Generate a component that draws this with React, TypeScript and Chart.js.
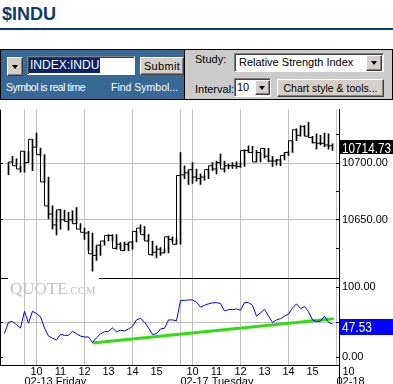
import React, { useEffect, useRef } from 'react';
import { Chart, registerables } from 'chart.js';

Chart.register(...registerables);

// ---- data (10-minute bars, index 0..83) ----
const highs = [
  null, null, 10700, 10705.6, 10703.4, 10697.2, 10710, 10710, 10720.5, 10726,
  10712.7, 10707, 10687.3, 10661.9, 10657.6, 10659, 10658.2, 10656.2, 10657.6, 10660.5,
  10646.3, 10642.4, 10639.5, 10638.1, 10626.8, 10628.2, 10631.1, 10636.7, 10636.7, 10636.7,
  10629.7, 10630.2, 10629.7, 10631.1, 10639.5, 10645.2, 10643.8, 10636.7, 10631.1, 10626.8,
  10625.4, 10624, 10635.3, 10634.7, 10633.3, 10708.9, 10697.2, 10692.9, 10700, 10694.4,
  10690.1, 10688.7, 10694.4, 10700, 10701.4, 10707.6, 10701.4, 10698.6, 10700, 10700.6,
  10700, 10711.3, 10714.7, 10714.2, 10710.7, 10708.9, 10712.5, 10712.5, 10705.6, 10702.8,
  10702.8, 10708.5, 10709.9, 10719.2, 10729.7, 10732.5, 10732.5, 10735.3, 10723.2, 10725.4,
  10724, 10726, 10725.4, 10716.4,
];
const lows = [
  null, null, 10689.5, 10700, 10697.2, 10691.5, 10691.5, 10700, 10693, 10713.6,
  10706.2, 10682.5, 10650.6, 10641.5, 10636.4, 10641.5, 10649.2, 10640.7, 10647.7, 10646.3,
  10641.5, 10632.5, 10622.6, 10604.5, 10614.1, 10618.4, 10627.4, 10631.1, 10631.1, 10624,
  10624, 10622.6, 10622.6, 10624, 10630.2, 10638.7, 10632.5, 10630.2, 10618.4, 10616.1,
  10618.4, 10620.6, 10620.6, 10630.5, 10628.2, 10628.2, 10685.9, 10680.8, 10681.6, 10683.6,
  10680.8, 10684.5, 10685.9, 10692.9, 10690.1, 10697.7, 10691.5, 10694.4, 10694.9, 10694.9,
  10695.8, 10696.6, 10708.9, 10708.5, 10700.6, 10700.6, 10704.2, 10700.6, 10696.6, 10697.7,
  10697.2, 10702.3, 10706.2, 10708.9, 10719.2, 10723.2, 10724, 10723.2, 10717, 10711.9,
  10715.5, 10714.1, 10711.9, 10710.7,
];
const closes = [
  null, null, 10700, 10700.5, 10697.2, 10694.4, 10710, 10700, 10720.5, 10713.6,
  10707, 10683, 10661.9, 10654.8, 10645.2, 10658.5, 10649.7, 10648.3, 10649.7, 10646.3,
  10641.5, 10638.7, 10638.1, 10619.8, 10618.4, 10627.4, 10631.1, 10635.9, 10635.9, 10624.6,
  10628.2, 10622.6, 10628.2, 10630.2, 10639.5, 10642.4, 10636.7, 10631.1, 10619, 10621.2,
  10623.9, 10620.6, 10634.7, 10632.5, 10628.2, 10688.7, 10689.3, 10691, 10693.8, 10687.3,
  10685.9, 10687.3, 10693.8, 10697.2, 10694.4, 10700, 10694.4, 10697.2, 10697.2, 10697.2,
  10696.6, 10710.7, 10710.7, 10708.9, 10700.6, 10708.9, 10712.5, 10705.6, 10701.4, 10701.4,
  10702.3, 10706.2, 10708.9, 10719.2, 10728.8, 10724, 10731.6, 10723.2, 10722, 10717.5,
  10717, 10717, 10715.5, 10714.73,
];
const rsiValues = [
  null, 33.9, 50, 51, 46.4, 41.7, 65.8, 48.6, 65.8, 62.5,
  57.9, 41.7, 30.1, 26.9, 24.6, 32.5, 31.1, 31.1, 37.1, 33.4,
  30.1, 28.8, 28.8, 20.8, 27.8, 33.4, 36.2, 37.1, 41.7, 36.2,
  38.5, 37.5, 40.3, 44, 53.3, 55.6, 50, 41.7, 32.5, 33.4,
  40.3, 41.3, 53.3, 53.3, 52, 81.1, 81.5, 82, 82, 78.8,
  71.8, 74.4, 76.4, 77.8, 78.2, 76.8, 66.3, 68.1, 68.1, 69.1,
  67.2, 78.2, 78.2, 74.4, 58.8, 63.4, 68.6, 58.8, 49.6, 53.3,
  55.1, 58.8, 61.6, 70.5, 76.4, 69.5, 72.7, 65, 53.3, 51,
  51.4, 58.8, 50, 47.53,
];
const trendX = [23, 83.3];
const trendY = [20.2, 55.1];

const priceTicks = [10625, 10650, 10675, 10700, 10725];
const priceLabeled = [10650, 10700];
const priceGrid = [10650, 10700];
const priceMin = 10597.9;
const priceMax = 10746.6;
const rsiTicks = [0, 50, 100];
const rsiLabeled = [0, 100];
const rsiGrid = [50];
const rsiLeftTicks = [50, 0];
const rsiMin = -11.5;
const rsiMax = 112.5;

const gridPositions = [6, 9, 21, 33, 45, 48, 60, 72, 84];
const hourPositions = [9, 15, 21, 27, 33, 39, 48, 54, 60, 66, 72, 78, 87];
const hourLabels = ['10', '11', '12', '13', '14', '15', '10', '11', '12', '13', '14', '15', '10'];
const datePositions = [6, 45, 84];
const dateLabels = ['02-13 Friday', '02-17 Tuesday', '02-18'];
const lastPriceLabel = '10714.73';
const lastRsiLabel = '47.53';

const FONT = '"Liberation Sans", Arial, Helvetica, sans-serif';

const overlayPlugin = {
  id: 'overlay',
  beforeDatasetsDraw(chart: any) {
    const { ctx, chartArea: ca } = chart;
    const ys = chart.scales.y;
    const rs = chart.scales.y2;
    const r = (v: number) => Math.round(v) + 0.5;
    ctx.save();
    // horizontal grid lines
    ctx.strokeStyle = '#c0c0c0';
    ctx.lineWidth = 1;
    const hl = (y: number) => {
      ctx.beginPath();
      ctx.moveTo(ca.left, y);
      ctx.lineTo(ca.right, y);
      ctx.stroke();
    };
    priceGrid.forEach((v) => hl(r(ys.getPixelForValue(v))));
    rsiGrid.forEach((v) => hl(r(rs.getPixelForValue(v))));
    // watermark
    ctx.fillStyle = '#c2c2c2';
    ctx.textBaseline = 'alphabetic';
    ctx.textAlign = 'left';
    ctx.font = '17px "Liberation Serif", "Times New Roman", serif';
    const by = rs.top + 15.5;
    ctx.fillText('QUOTE', 10, by);
    const w = ctx.measureText('QUOTE').width;
    ctx.font = '11px "Liberation Serif", "Times New Roman", serif';
    ctx.fillText('.COM', 10 + w, by);
    ctx.restore();
  },
  afterDraw(chart: any) {
    const { ctx, chartArea: ca } = chart;
    const xs = chart.scales.x;
    const ys = chart.scales.y;
    const rs = chart.scales.y2;
    const r = (v: number) => Math.round(v) + 0.5;
    const line = (x1: number, y1: number, x2: number, y2: number) => {
      ctx.beginPath();
      ctx.moveTo(x1, y1);
      ctx.lineTo(x2, y2);
      ctx.stroke();
    };
    ctx.save();
    ctx.strokeStyle = '#000';
    ctx.lineWidth = 1;
    line(0.5, ca.top, 0.5, ca.bottom);
    const sep = r(rs.top - 0.5);
    line(99, sep, ca.right, sep);
    line(0, sep, 8, sep);
    const ax = r(ca.right);
    line(ax, ca.bottom, ax, chart.height);
    priceTicks.forEach((v) => {
      const y = r(ys.getPixelForValue(v));
      line(ca.right - 3, y, ca.right, y);
    });
    rsiTicks.forEach((v) => {
      const y = r(rs.getPixelForValue(v));
      line(ca.right - 3, y, ca.right, y);
    });
    priceGrid.forEach((v) => {
      const y = r(ys.getPixelForValue(v));
      line(0, y, 3, y);
    });
    rsiLeftTicks.forEach((v) => {
      const y = r(rs.getPixelForValue(v));
      line(0, y, 3, y);
    });

    ctx.fillStyle = '#000';
    ctx.font = '11px ' + FONT;
    ctx.textBaseline = 'alphabetic';
    ctx.textAlign = 'center';
    hourPositions.forEach((p, i) => {
      ctx.fillText(hourLabels[i], xs.getPixelForValue(p), ca.bottom + 10);
    });
    ctx.textAlign = 'left';
    datePositions.forEach((p, i) => {
      ctx.fillText(dateLabels[i], xs.getPixelForValue(p), ca.bottom + 19.5);
    });

    const fitText = (txt: string, x: number, y: number, w: number) => {
      const m = ctx.measureText(txt).width;
      ctx.save();
      ctx.translate(x, y);
      ctx.scale(w / m, 1);
      ctx.fillText(txt, 0, 0);
      ctx.restore();
    };

    const lastClose = closes[closes.length - 1] as number;
    const py = ys.getPixelForValue(lastClose);
    ctx.fillStyle = '#000';
    ctx.fillRect(ca.right + 1, Math.round(py - 6), chart.width - ca.right - 1, 14);
    ctx.fillStyle = '#fff';
    ctx.font = '15px ' + FONT;
    fitText(lastPriceLabel, ca.right + 3, py + 6.7, 49);

    const lastRsi = rsiValues[rsiValues.length - 1] as number;
    const ry = rs.getPixelForValue(lastRsi);
    ctx.fillStyle = '#0000ff';
    ctx.fillRect(ca.right + 1, Math.round(ry - 5), chart.width - ca.right - 1, 16);
    ctx.fillStyle = '#fff';
    ctx.font = '14px ' + FONT;
    fitText(lastRsiLabel, ca.right + 3, ry + 7.6, 30);
    ctx.restore();
  },
};

function PriceChart() {
  const ref = useRef<HTMLCanvasElement | null>(null);
  useEffect(() => {
    if (!ref.current) return;
    const stepPoints: any[] = [];
    const rangeBars: any[] = [];
    closes.forEach((c, i) => {
      if (c != null) stepPoints.push({ x: i, y: c });
      if (highs[i] != null && lows[i] != null) rangeBars.push({ x: i, y: [lows[i], highs[i]] });
    });
    const rsiPoints: any[] = [];
    rsiValues.forEach((v, i) => {
      if (v != null) rsiPoints.push({ x: i, y: v });
    });
    const trendPoints = trendX.map((x, i) => ({ x, y: trendY[i] }));

    const chart = new Chart(ref.current, {
      type: 'line',
      data: {
        datasets: [
          {
            type: 'bar',
            data: rangeBars,
            xAxisID: 'x',
            yAxisID: 'y',
            backgroundColor: '#000',
            borderWidth: 0,
            barThickness: 1,
            order: 3,
          } as any,
          {
            type: 'line',
            data: stepPoints,
            xAxisID: 'x',
            yAxisID: 'y',
            borderColor: '#000',
            borderWidth: 1,
            stepped: 'after',
            pointRadius: 0,
            fill: false,
            order: 2,
          },
          {
            type: 'line',
            data: trendPoints,
            xAxisID: 'x',
            yAxisID: 'y2',
            borderColor: '#33dd11',
            borderWidth: 3,
            pointRadius: 0,
            fill: false,
            order: 4,
          },
          {
            type: 'line',
            data: rsiPoints,
            xAxisID: 'x',
            yAxisID: 'y2',
            borderColor: '#0000ff',
            borderWidth: 1,
            pointRadius: 0,
            tension: 0,
            fill: false,
            order: 1,
          },
        ],
      },
      options: {
        responsive: false,
        animation: false,
        events: [],
        layout: { padding: 0 },
        plugins: {
          legend: { display: false },
          tooltip: { enabled: false },
        },
        scales: {
          x: {
            type: 'linear',
            min: -0.125,
            max: 84.625,
            offset: false,
            afterBuildTicks: (s: any) => {
              s.ticks = gridPositions.map((v) => ({ value: v }));
            },
            afterFit: (s: any) => {
              s.height = 19;
            },
            ticks: { display: false },
            grid: { color: '#c0c0c0', drawTicks: false, offset: false, lineWidth: 1 },
            border: { display: true, color: '#000', width: 1 },
          },
          y: {
            type: 'linear',
            position: 'right',
            stack: 'panels',
            stackWeight: 175.5,
            min: priceMin,
            max: priceMax,
            beginAtZero: false,
            afterBuildTicks: (s: any) => {
              s.ticks = priceTicks.map((v) => ({ value: v }));
            },
            afterFit: (s: any) => {
              s.width = 54;
            },
            ticks: {
              autoSkip: false,
              padding: 3,
              color: '#000',
              font: { family: FONT, size: 11 },
              callback: (v: any) => (priceLabeled.includes(v) ? Number(v).toFixed(2) : ''),
            },
            grid: { display: false, drawTicks: false },
            border: { display: true, color: '#000', width: 1 },
          },
          y2: {
            type: 'linear',
            position: 'right',
            stack: 'panels',
            stackWeight: 89.5,
            min: rsiMin,
            max: rsiMax,
            beginAtZero: false,
            afterBuildTicks: (s: any) => {
              s.ticks = rsiTicks.map((v) => ({ value: v }));
            },
            afterFit: (s: any) => {
              s.width = 54;
            },
            ticks: {
              autoSkip: false,
              padding: 3,
              color: '#000',
              font: { family: FONT, size: 11 },
              callback: (v: any) => (rsiLabeled.includes(v) ? Number(v).toFixed(2) : ''),
            },
            grid: { display: false, drawTicks: false },
            border: { display: true, color: '#000', width: 1 },
          },
        },
      } as any,
      plugins: [overlayPlugin],
    });
    return () => chart.destroy();
  }, []);
  return (
    <canvas
      ref={ref}
      width={393}
      height={284}
      style={{ position: 'absolute', left: 0, top: 100, width: 393, height: 284, display: 'block' }}
    />
  );
}

const bevelOut: React.CSSProperties = {
  position: 'absolute',
  boxSizing: 'border-box',
  background: '#d4d0c8',
  borderTop: '1px solid #ffffff',
  borderLeft: '1px solid #ffffff',
  borderRight: '1px solid #404040',
  borderBottom: '1px solid #404040',
  boxShadow: 'inset -1px -1px #808080',
};
const inset: React.CSSProperties = {
  position: 'absolute',
  boxSizing: 'border-box',
  background: '#ffffff',
  borderTop: '1px solid #808080',
  borderLeft: '1px solid #808080',
  borderRight: '1px solid #ffffff',
  borderBottom: '1px solid #ffffff',
  boxShadow: 'inset 1px 1px #404040',
};

function Arrow({ left, top, w, h }: { left: number; top: number; w: number; h: number }) {
  return (
    <div style={{ ...bevelOut, left, top, width: w, height: h }}>
      <div
        style={{
          position: 'absolute',
          left: '50%',
          top: '50%',
          marginLeft: -3.5,
          marginTop: -2,
          width: 0,
          height: 0,
          borderLeft: '3.5px solid transparent',
          borderRight: '3.5px solid transparent',
          borderTop: '4px solid #000',
        }}
      />
    </div>
  );
}

export default function App() {
  const txt = (extra: React.CSSProperties): React.CSSProperties => ({
    position: 'absolute',
    whiteSpace: 'nowrap',
    fontFamily: FONT,
    ...extra,
  });
  return (
    <div
      style={{
        position: 'absolute',
        left: 0,
        top: 0,
        width: 393,
        height: 384,
        background: '#fff',
        overflow: 'hidden',
        fontFamily: FONT,
      }}
    >
      <div style={txt({ left: 2, top: 5, fontSize: 18, lineHeight: '18px', fontWeight: 'bold', color: '#0b3c6e' })}>
        $INDU
      </div>
      <div style={{ position: 'absolute', left: 0, top: 28, width: 393, height: 2, background: '#0b3c6e' }} />

      <div
        style={{
          position: 'absolute',
          left: 0,
          top: 49,
          width: 393,
          height: 51,
          boxSizing: 'border-box',
          border: '1px solid #000',
          background: '#cbcbcb',
        }}
      />
      <div style={{ position: 'absolute', left: 1, top: 50, width: 183, height: 49, background: '#386896' }} />
      <div style={{ position: 'absolute', left: 184, top: 50, width: 1, height: 49, background: '#000' }} />

      <Arrow left={7} top={57} w={16} h={19} />
      <div style={{ ...inset, left: 27, top: 56, width: 108, height: 19 }} />
      <div
        style={txt({
          left: 29,
          top: 58,
          height: 15,
          lineHeight: '15px',
          fontSize: 12,
          color: '#fff',
          background: '#0a246a',
          padding: '0 1px',
        })}
      >
        INDEX:INDU
      </div>
      <div style={{ ...bevelOut, left: 140, top: 57, width: 44, height: 18 }}>
        <div style={txt({ left: 0, top: 1, width: 42, textAlign: 'center', fontSize: 11, lineHeight: '14px', letterSpacing: 0.3, color: '#000' })}>
          Submit
        </div>
      </div>
      <div style={txt({ left: 6, top: 81, fontSize: 10.5, lineHeight: '12px', color: '#fff', letterSpacing: -0.5 })}>
        Symbol is real time
      </div>
      <div style={txt({ left: 111, top: 81, fontSize: 10.5, lineHeight: '12px', color: '#fff' })}>Find Symbol...</div>

      <div style={txt({ left: 195, top: 53, fontSize: 11, lineHeight: '13px', color: '#000' })}>Study:</div>
      <div style={{ ...inset, left: 234, top: 53, width: 150, height: 19 }}>
        <div style={txt({ left: 4, top: 0, fontSize: 11, lineHeight: '17px', color: '#000' })}>Relative Strength Index</div>
      </div>
      <Arrow left={366} top={55} w={16} h={16} />

      <div style={txt({ left: 195, top: 83, fontSize: 11, lineHeight: '13px', color: '#000' })}>Interval:</div>
      <div style={{ ...inset, left: 234, top: 78, width: 37, height: 19 }}>
        <div style={txt({ left: 2, top: 0, fontSize: 11, lineHeight: '17px', color: '#000' })}>10</div>
      </div>
      <Arrow left={255} top={80} w={15} h={15} />
      <div style={{ ...bevelOut, left: 277, top: 79, width: 107, height: 18 }}>
        <div style={txt({ left: 0, top: 1, width: 105, textAlign: 'center', fontSize: 10.5, lineHeight: '14px', color: '#000' })}>
          Chart style &amp; tools...
        </div>
      </div>

      <PriceChart />
    </div>
  );
}
